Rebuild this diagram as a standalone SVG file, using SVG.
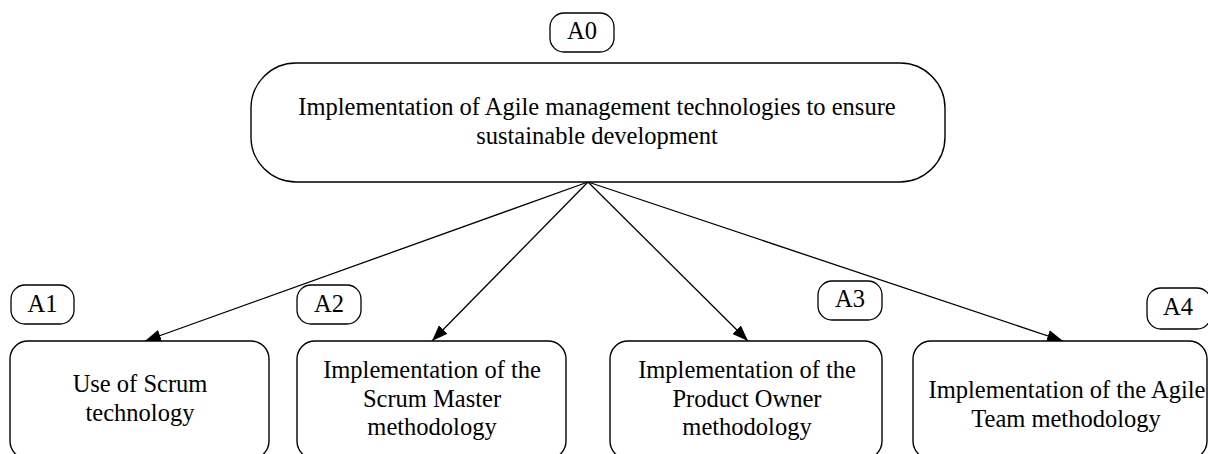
<svg xmlns="http://www.w3.org/2000/svg" width="1208" height="454" viewBox="0 0 1208 454">
<style>
.box{fill:#fff;stroke:#000;stroke-width:1.4}
.lbl{fill:#fff;stroke:#000;stroke-width:1.3}
.t{font-family:"Liberation Serif","Times New Roman",serif;font-size:24.5px;fill:#000;text-anchor:middle}
.edge{stroke:#000;stroke-width:1.3;fill:none;marker-end:url(#arr)}
</style>
<defs>
<marker id="arr" viewBox="0 0 16 12" refX="16" refY="6" markerWidth="16" markerHeight="12" markerUnits="userSpaceOnUse" orient="auto">
<path d="M0,0 L16,6 L0,12 Z" fill="#000"/>
</marker>
</defs>
<rect width="1208" height="454" fill="#fff"/>
<g id="connectors">
<line class="edge" x1="588" y1="182" x2="145" y2="341"/>
<line class="edge" x1="588" y1="182" x2="432" y2="341"/>
<line class="edge" x1="588" y1="182" x2="748" y2="341"/>
<line class="edge" x1="588" y1="182" x2="1063" y2="341"/>
</g>
<g id="A0">
<rect class="lbl" x="550" y="13" width="64" height="39" rx="14"/>
<text class="t" x="582" y="39">A0</text>
<rect class="box" x="251" y="63" width="694" height="119" rx="45"/>
<text class="t" x="597" y="115">Implementation of Agile management technologies to ensure</text>
<text class="t" x="597" y="144">sustainable development</text>
</g>
<g id="A1">
<rect class="lbl" x="11" y="285" width="63" height="39" rx="14"/>
<text class="t" x="42.5" y="312">A1</text>
<rect class="box" x="10" y="341" width="259" height="118" rx="18"/>
<text class="t" x="140" y="392">Use of Scrum</text>
<text class="t" x="140" y="421">technology</text>
</g>
<g id="A2">
<rect class="lbl" x="297" y="285" width="64" height="39" rx="14"/>
<text class="t" x="329" y="312">A2</text>
<rect class="box" x="297" y="341" width="269" height="118" rx="18"/>
<text class="t" x="432" y="378">Implementation of the</text>
<text class="t" x="432" y="407">Scrum Master</text>
<text class="t" x="432" y="435">methodology</text>
</g>
<g id="A3">
<rect class="lbl" x="818" y="281" width="64" height="39" rx="14"/>
<text class="t" x="850" y="307">A3</text>
<rect class="box" x="610" y="341" width="272" height="118" rx="18"/>
<text class="t" x="747" y="378">Implementation of the</text>
<text class="t" x="747" y="407">Product Owner</text>
<text class="t" x="747" y="435">methodology</text>
</g>
<g id="A4">
<rect class="lbl" x="1147" y="288" width="64" height="41" rx="14"/>
<text class="t" x="1178" y="315">A4</text>
<rect class="box" x="913" y="341" width="294" height="118" rx="18"/>
<text class="t" x="1067" y="398">Implementation of the Agile</text>
<text class="t" x="1066" y="427">Team methodology</text>
</g>
</svg>
